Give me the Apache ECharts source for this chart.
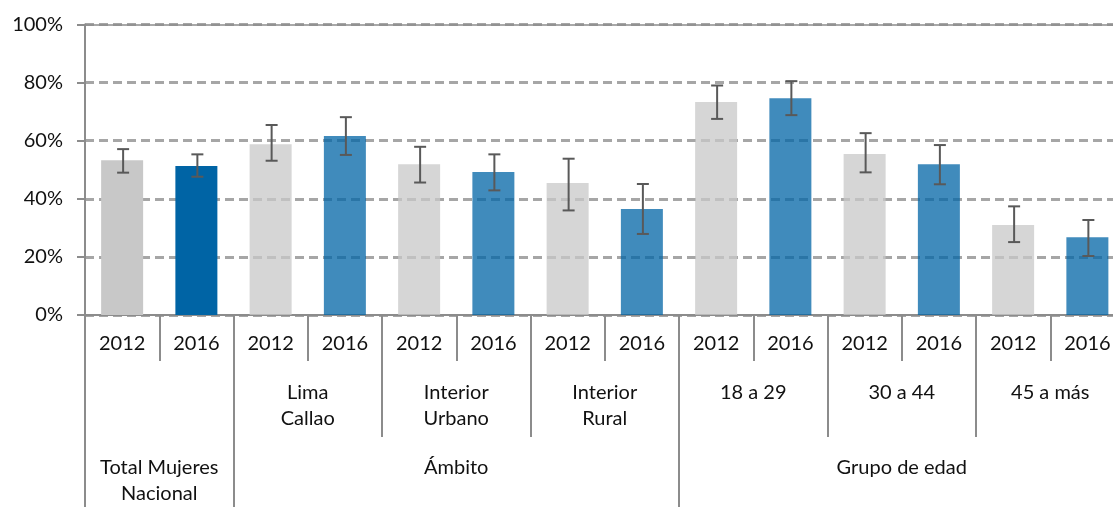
<!DOCTYPE html>
<html>
<head>
<meta charset="utf-8">
<script src="https://cdn.jsdelivr.net/npm/echarts@6/dist/echarts.min.js"></script>
<style>html,body{margin:0;padding:0;background:#fff;}#chart{width:1113px;height:507px;}</style>
</head>
<body>
<div id="chart"></div>
<script>
// ---- data ----
const years = ['2012','2016','2012','2016','2012','2016','2012','2016','2012','2016','2012','2016','2012','2016'];
const values = [53.3, 51.3, 58.8, 61.6, 51.9, 49.2, 45.4, 36.5, 73.3, 74.6, 55.4, 51.9, 31.0, 26.8];
const errLow = [49.0, 47.6, 53.1, 55.1, 45.6, 42.9, 36.0, 27.9, 67.5, 68.8, 49.1, 45.0, 25.1, 20.3];
const errHigh = [57.1, 55.3, 65.4, 68.1, 57.9, 55.3, 53.8, 45.1, 79.0, 80.5, 62.6, 58.5, 37.4, 32.7];
const groupLabels = ['', 'Lima\nCallao', 'Interior\nUrbano', 'Interior\nRural', '18 a 29', '30 a 44', '45 a más'];
const superLabels = ['Total Mujeres\nNacional', 'Ámbito', 'Grupo de edad'];
const superStart = [0, 2, 8];
const superSpan = [2, 6, 6];

// ---- styles ----
const FONT = 'Lato';
const FS = 20;
const AXIS_GRAY = '#8c8c8c';
const TEXT = '#111';
const baseGray = '#c8c8c8', baseBlue = '#0064a5';

const superCenters = superStart.map((s, i) => s + superSpan[i] / 2);
const superBounds = superStart.concat([superStart[superStart.length - 1] + superSpan[superSpan.length - 1]]);

const chart = echarts.init(document.getElementById('chart'), null, {renderer: 'canvas'});
const option = {
  animation: false,
  backgroundColor: '#fff',
  grid: {left: 85, width: 1039.5, top: 24.5, bottom: 192, containLabel: false, outerBoundsMode: 'none'},
  xAxis: [
    {
      type: 'category', data: years, position: 'bottom',
      axisLine: {show: true, lineStyle: {color: AXIS_GRAY, width: 2}},
      axisTick: {show: true, interval: 0, length: 46, lineStyle: {color: AXIS_GRAY, width: 2}},
      axisLabel: {interval: 0, margin: 15, color: TEXT, fontFamily: FONT, fontSize: FS, lineHeight: 26.6, verticalAlign: 'top'},
      splitLine: {show: false}
    },
    {
      type: 'category', data: groupLabels, position: 'bottom',
      axisLine: {show: false},
      axisTick: {show: true, interval: 0, length: 122, lineStyle: {color: AXIS_GRAY, width: 2}},
      axisLabel: {interval: 0, margin: 64, color: TEXT, fontFamily: FONT, fontSize: FS, lineHeight: 26.6, verticalAlign: 'top'},
      splitLine: {show: false}
    },
    {
      type: 'value', min: 0, max: 14, position: 'bottom',
      axisLine: {show: false},
      axisTick: {show: true, length: 195, customValues: superBounds, lineStyle: {color: AXIS_GRAY, width: 2}},
      axisLabel: {
        customValues: superCenters, margin: 139, color: TEXT, fontFamily: FONT, fontSize: FS, lineHeight: 26.6, verticalAlign: 'top',
        formatter: function (v) { const i = superCenters.indexOf(v); return i >= 0 ? superLabels[i] : ''; }
      },
      splitLine: {show: false}
    },
    {
      type: 'value', min: 0, max: 14, position: 'top',
      axisLine: {show: true, lineStyle: {color: AXIS_GRAY, width: 1.5}},
      axisTick: {show: false}, axisLabel: {show: false}, splitLine: {show: false}
    }
  ],
  yAxis: {
    type: 'value', min: 0, max: 100, interval: 20,
    axisLine: {show: true, lineStyle: {color: AXIS_GRAY, width: 2}},
    axisTick: {show: true, length: 8, lineStyle: {color: AXIS_GRAY, width: 2}},
    axisLabel: {margin: 22, color: TEXT, fontFamily: FONT, fontSize: FS, formatter: '{value}%'},
    splitLine: {show: true, lineStyle: {color: '#a6a6a6', width: 3, type: [9, 5]}}
  },
  series: [
    {
      type: 'bar', xAxisIndex: 0, yAxisIndex: 0, barWidth: 42,
      data: values.map((v, i) => ({value: v, itemStyle: {opacity: i < 2 ? 1 : 0.75}})),
      itemStyle: {
        color: function (p) { return p.dataIndex % 2 === 0 ? baseGray : baseBlue; }
      },
      z: 2
    },
    {
      type: 'custom', xAxisIndex: 0, yAxisIndex: 0, z: 5,
      data: values.map((v, i) => [i, errLow[i], errHigh[i]]),
      renderItem: function (params, api) {
        const lo = api.coord([api.value(0), api.value(1)]);
        const hi = api.coord([api.value(0), api.value(2)]);
        const x = lo[0] + 1, hw = 6;
        const st = {stroke: '#595959', lineWidth: 2};
        return {
          type: 'group',
          children: [
            {type: 'line', shape: {x1: x, y1: lo[1], x2: x, y2: hi[1]}, style: st},
            {type: 'line', shape: {x1: x - hw, y1: lo[1], x2: x + hw, y2: lo[1]}, style: st},
            {type: 'line', shape: {x1: x - hw, y1: hi[1], x2: x + hw, y2: hi[1]}, style: st}
          ]
        };
      }
    }
  ]
};
chart.setOption(option);
</script>
</body>
</html>
